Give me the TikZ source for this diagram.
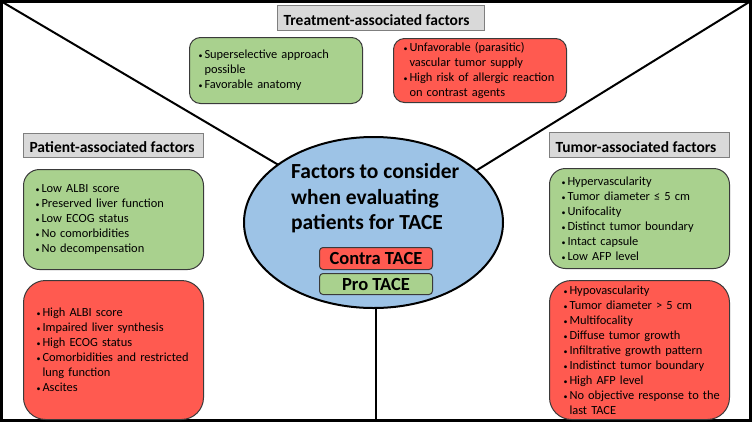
\documentclass[tikz,border=0pt]{standalone}
\usepackage{fontspec}
\setmainfont{Carlito}
\usetikzlibrary{shapes.geometric}
\definecolor{gfill}{HTML}{A9D18E}
\definecolor{rfill}{HTML}{FF5A50}
\definecolor{bfill}{HTML}{9DC3E6}
\definecolor{hfill}{HTML}{D9D9D9}
\definecolor{hdraw}{HTML}{7F7F7F}
\definecolor{bdraw}{HTML}{3A3A3A}
\newcommand\bl[1]{\mbox{\makebox[6pt][l]{\fontsize{8}{8}\selectfont\textbullet}#1}}
\newcommand\ind[1]{\mbox{\hspace*{6pt}#1}}
\hbadness=10000 \hfuzz=50pt
\begin{document}
\begin{tikzpicture}[x=1pt,y=-1pt,
  heading/.style={draw=hdraw, line width=1pt, fill=hfill, anchor=north west,
    inner ysep=0pt, inner xsep=6pt, align=left,
    font=\fontsize{15.5}{18}\selectfont\bfseries, text height=14.5pt, text depth=0pt},
  fbox/.style={draw=bdraw, line width=1pt, anchor=north west, align=left,
    font=\fontsize{12.4}{15}\selectfont, inner ysep=0pt},
  tag/.style={draw=bdraw, line width=1pt, rounded corners=3.5pt, anchor=north west,
    font=\fontsize{18.5}{18.5}\selectfont\bfseries, text height=12.5pt, text depth=0pt,
    inner sep=0pt, minimum width=113pt},
  conn/.style={line width=2pt, draw=black}
]
\useasboundingbox (0,0) rectangle (752,424);
\fill[white] (0,0) rectangle (752,424);
% corner coordinates
\coordinate (cTL) at (1.5,1.5);
\coordinate (cTR) at (750,1.5);
\coordinate (cB) at (376,420.5);
\coordinate (eL) at (373.5,221);
\coordinate (eR) at (373.5,234);
\coordinate (eB) at (376,250);
% connectors
\draw[conn] (cTL) -- (eL);
\draw[conn] (cTR) -- (eR);
\draw[conn] (eB) -- (cB);
% frame
\draw[line width=3pt] (1.5,1.5) rectangle (750,420.5);
% central ellipse
\node[ellipse, draw=black, line width=2pt, fill=bfill, minimum width=259pt,
  minimum height=171pt, inner sep=0pt] (ell) at (373.5,222.5) {};
\node[anchor=north west, inner sep=0pt, align=left,
  font=\fontsize{21.5}{25.8}\selectfont\bfseries] (title) at (291,163)
  {Factors to consider\\when evaluating\\patients for TACE};
\node[tag, fill=rfill, minimum height=22pt] (contra) at (319,247) {Contra TACE};
\node[tag, fill=gfill, minimum height=21pt] (pro) at (319,273) {Pro TACE};
% headings
\node[heading, minimum width=207pt, minimum height=25pt] (hT) at (277,5) {\makebox[195pt][l]{Treatment-associated factors}};
\node[heading, minimum width=180pt, minimum height=24pt] (hP) at (23,133) {\makebox[168pt][l]{Patient-associated factors}};
\node[heading, minimum width=180pt, minimum height=25pt] (hU) at (549,132) {\makebox[168pt][l]{Tumor-associated factors}};
% treatment boxes
\node[fbox, fill=gfill, rounded corners=11pt, text width=155pt, inner xsep=9pt, minimum height=66pt] (tg) at (189,37)
  {\bl{Superselective approach}\\ \ind{possible}\\ \bl{Favorable anatomy}};
\node[fbox, fill=rfill, rounded corners=11pt, text width=153pt, inner xsep=10pt, minimum height=64pt] (tr) at (393,38)
  {\bl{Unfavorable (parasitic)}\\ \ind{vascular tumor supply}\\ \bl{High risk of allergic reaction}\\ \ind{on contrast agents}};
% patient boxes
\node[fbox, fill=gfill, rounded corners=16pt, text width=156pt, inner xsep=12pt, minimum height=100pt] (pg) at (23,169)
  {\bl{Low ALBI score}\\ \bl{Preserved liver function}\\ \bl{Low ECOG status}\\ \bl{No comorbidities}\\ \bl{No decompensation}};
\node[fbox, fill=rfill, rounded corners=22pt, text width=154pt, inner xsep=13pt, minimum height=139pt] (pr) at (23,280)
  {\bl{High ALBI score}\\ \bl{Impaired liver synthesis}\\ \bl{High ECOG status}\\ \bl{Comorbidities and restricted}\\ \ind{lung function}\\ \bl{Ascites}};
% tumor boxes
\node[fbox, fill=gfill, rounded corners=16pt, text width=156pt, inner xsep=12pt, minimum height=100pt] (ug) at (549,168)
  {\bl{Hypervascularity}\\ \bl{Tumor diameter ≤ 5 cm}\\ \bl{Unifocality}\\ \bl{Distinct tumor boundary}\\ \bl{Intact capsule}\\ \bl{Low AFP level}};
\node[fbox, fill=rfill, rounded corners=22pt, text width=152pt, inner xsep=14pt, minimum height=139pt] (ur) at (549,280)
  {\bl{Hypovascularity}\\ \bl{Tumor diameter > 5 cm}\\ \bl{Multifocality}\\ \bl{Diffuse tumor growth}\\ \bl{Infiltrative growth pattern}\\ \bl{Indistinct tumor boundary}\\ \bl{High AFP level}\\ \bl{No objective response to the}\\ \ind{last TACE}};
\end{tikzpicture}
\end{document}
